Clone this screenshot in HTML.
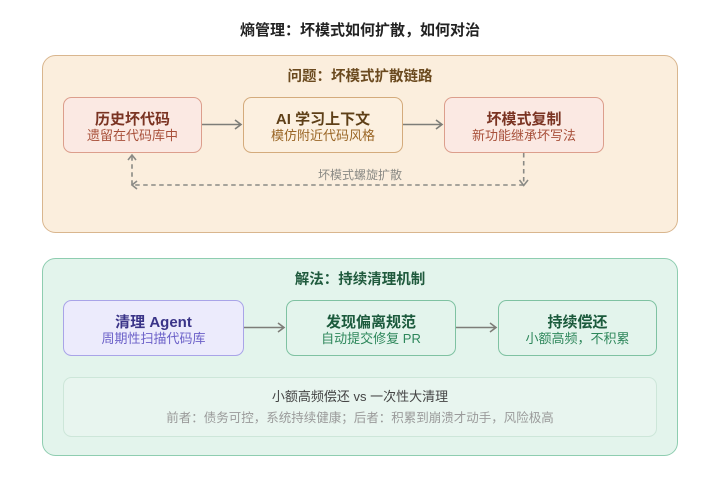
<!DOCTYPE html>
<html><head><meta charset="utf-8"><style>
html,body{margin:0;padding:0;background:#fff;}
body{width:720px;height:487px;overflow:hidden;}
svg text{font-family:"Liberation Sans","Noto Sans CJK SC",sans-serif;}
</style></head><body>
<svg width="720" height="487" viewBox="0 0 720 487" xmlns="http://www.w3.org/2000/svg">
<text x="360" y="35" text-anchor="middle" font-size="15" font-weight="bold" fill="#222">熵管理：坏模式如何扩散，如何对治</text>

<rect x="42.5" y="55.5" width="635" height="177" rx="13" fill="#fbeedd" stroke="#d9b68e" stroke-width="1"/>
<text x="360" y="81" text-anchor="middle" font-size="14.5" font-weight="bold" fill="#6b4a1f">问题：坏模式扩散链路</text>

<rect x="63.5" y="97.5" width="138" height="55" rx="8" fill="#fbe9e3" stroke="#dc9e8c"/>
<text x="132.5" y="124" text-anchor="middle" font-size="15" font-weight="bold" fill="#7a3322">历史坏代码</text>
<text x="132.5" y="140" text-anchor="middle" font-size="13" fill="#a8503a">遗留在代码库中</text>

<rect x="243.5" y="97.5" width="159" height="55" rx="8" fill="#fcf0e0" stroke="#d4ab7c"/>
<text x="323" y="124" text-anchor="middle" font-size="15" font-weight="bold" fill="#5e3f17">AI 学习上下文</text>
<text x="323" y="140" text-anchor="middle" font-size="13" fill="#9a6626">模仿附近代码风格</text>

<rect x="444.5" y="97.5" width="159" height="55" rx="8" fill="#fbe9e3" stroke="#dc9e8c"/>
<text x="524" y="124" text-anchor="middle" font-size="15" font-weight="bold" fill="#7a3322">坏模式复制</text>
<text x="524" y="140" text-anchor="middle" font-size="13" fill="#a8503a">新功能继承坏写法</text>

<g stroke="#7d7d78" stroke-width="1.6" fill="none">
<line x1="202" y1="124.5" x2="241" y2="124.5"/>
<polyline points="235,120 241,124.5 235,129"/>
<line x1="403" y1="124.5" x2="442" y2="124.5"/>
<polyline points="436,120 442,124.5 436,129"/>
</g>
<g stroke="#8a8a85" stroke-width="1.6" fill="none">
<path d="M523.7 153 V185 H132 V155" stroke-dasharray="4.5 3.5"/>
<polyline points="519.5,180 523.7,185.5 528,180"/>
<polyline points="137,181 132,185 137,189"/>
<polyline points="128,160 132,155 136,160"/>
</g>
<text x="360" y="179" text-anchor="middle" font-size="12" fill="#8a8a85">坏模式螺旋扩散</text>

<rect x="42.5" y="258.5" width="635" height="197" rx="13" fill="#e3f4ec" stroke="#8ecdb0" stroke-width="1"/>
<text x="360" y="284" text-anchor="middle" font-size="14.5" font-weight="bold" fill="#1f5a3d">解法：持续清理机制</text>

<rect x="63.5" y="300.5" width="180" height="55" rx="8" fill="#ecebfc" stroke="#a9a4e8"/>
<text x="153.5" y="327" text-anchor="middle" font-size="15" font-weight="bold" fill="#3a3488">清理 Agent</text>
<text x="153.5" y="343" text-anchor="middle" font-size="13" fill="#6b60c8">周期性扫描代码库</text>

<rect x="286.5" y="300.5" width="169" height="55" rx="8" fill="#e3f4ec" stroke="#7fc2a2"/>
<text x="371" y="327" text-anchor="middle" font-size="15" font-weight="bold" fill="#1b5a3c">发现偏离规范</text>
<text x="371" y="343" text-anchor="middle" font-size="13" fill="#2e875b">自动提交修复 PR</text>

<rect x="498.5" y="300.5" width="158" height="55" rx="8" fill="#e3f4ec" stroke="#7fc2a2"/>
<text x="577.5" y="327" text-anchor="middle" font-size="15" font-weight="bold" fill="#1b5a3c">持续偿还</text>
<text x="577.5" y="343" text-anchor="middle" font-size="13" fill="#2e875b">小额高频，不积累</text>

<g stroke="#7d7d78" stroke-width="1.6" fill="none">
<line x1="244" y1="327.5" x2="284" y2="327.5"/>
<polyline points="278,323 284,327.5 278,332"/>
<line x1="456" y1="327.5" x2="496" y2="327.5"/>
<polyline points="490,323 496,327.5 490,332"/>
</g>

<rect x="63.5" y="377.5" width="593" height="59" rx="8" fill="#e8f5ef" stroke="#cde6d9"/>
<text x="360" y="401" text-anchor="middle" font-size="13" fill="#444">小额高频偿还 vs 一次性大清理</text>
<text x="360" y="422" text-anchor="middle" font-size="12.5" fill="#9a9a9a">前者：债务可控，系统持续健康；后者：积累到崩溃才动手，风险极高</text>
</svg>
</body></html>
